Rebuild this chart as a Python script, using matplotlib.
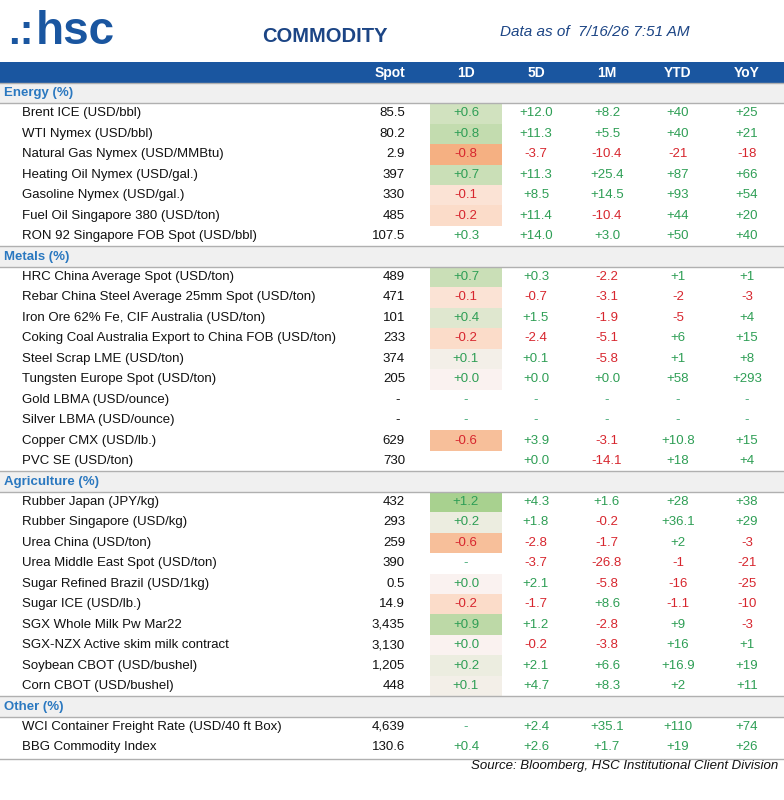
import matplotlib
matplotlib.use("Agg")
import matplotlib.pyplot as plt
from matplotlib.patches import Rectangle
import numpy as np

plt.rcParams['font.family'] = ['Liberation Sans', 'DejaVu Sans']

sections = ["Energy (%)", "Metals (%)", "Agriculture (%)", "Other (%)"]
names = [
    ["Brent ICE (USD/bbl)", "WTI Nymex (USD/bbl)", "Natural Gas Nymex (USD/MMBtu)",
     "Heating Oil Nymex (USD/gal.)", "Gasoline Nymex (USD/gal.)",
     "Fuel Oil Singapore 380 (USD/ton)", "RON 92 Singapore FOB Spot (USD/bbl)"],
    ["HRC China Average Spot (USD/ton)", "Rebar China Steel Average 25mm Spot (USD/ton)",
     "Iron Ore 62% Fe, CIF Australia (USD/ton)", "Coking Coal Australia Export to China FOB (USD/ton)",
     "Steel Scrap LME (USD/ton)", "Tungsten Europe Spot (USD/ton)", "Gold LBMA (USD/ounce)",
     "Silver LBMA (USD/ounce)", "Copper CMX (USD/lb.)", "PVC SE (USD/ton)"],
    ["Rubber Japan (JPY/kg)", "Rubber Singapore (USD/kg)", "Urea China (USD/ton)",
     "Urea Middle East Spot (USD/ton)", "Sugar Refined Brazil (USD/1kg)", "Sugar ICE (USD/lb.)",
     "SGX Whole Milk Pw Mar22", "SGX-NZX Active skim milk contract", "Soybean CBOT (USD/bushel)",
     "Corn CBOT (USD/bushel)"],
    ["WCI Container Freight Rate (USD/40 ft Box)", "BBG Commodity Index"],
]
spot = [["85.5", "80.2", "2.9", "397", "330", "485", "107.5"],
        ["489", "471", "101", "233", "374", "205", "-", "-", "629", "730"],
        ["432", "293", "259", "390", "0.5", "14.9", "3,435", "3,130", "1,205", "448"],
        ["4,639", "130.6"]]
d1 = [["+0.6", "+0.8", "-0.8", "+0.7", "-0.1", "-0.2", "+0.3"],
      ["+0.7", "-0.1", "+0.4", "-0.2", "+0.1", "+0.0", "-", "-", "-0.6", ""],
      ["+1.2", "+0.2", "-0.6", "-", "+0.0", "-0.2", "+0.9", "+0.0", "+0.2", "+0.1"],
      ["-", "+0.4"]]
d5 = [["+12.0", "+11.3", "-3.7", "+11.3", "+8.5", "+11.4", "+14.0"],
      ["+0.3", "-0.7", "+1.5", "-2.4", "+0.1", "+0.0", "-", "-", "+3.9", "+0.0"],
      ["+4.3", "+1.8", "-2.8", "-3.7", "+2.1", "-1.7", "+1.2", "-0.2", "+2.1", "+4.7"],
      ["+2.4", "+2.6"]]
m1 = [["+8.2", "+5.5", "-10.4", "+25.4", "+14.5", "-10.4", "+3.0"],
      ["-2.2", "-3.1", "-1.9", "-5.1", "-5.8", "+0.0", "-", "-", "-3.1", "-14.1"],
      ["+1.6", "-0.2", "-1.7", "-26.8", "-5.8", "+8.6", "-2.8", "-3.8", "+6.6", "+8.3"],
      ["+35.1", "+1.7"]]
ytd = [["+40", "+40", "-21", "+87", "+93", "+44", "+50"],
       ["+1", "-2", "-5", "+6", "+1", "+58", "-", "-", "+10.8", "+18"],
       ["+28", "+36.1", "+2", "-1", "-16", "-1.1", "+9", "+16", "+16.9", "+2"],
       ["+110", "+19"]]
yoy = [["+25", "+21", "-18", "+66", "+54", "+20", "+40"],
       ["+1", "-3", "+4", "+15", "+8", "+293", "-", "-", "+15", "+4"],
       ["+38", "+29", "-3", "-21", "-25", "-10", "-3", "+1", "+19", "+11"],
       ["+74", "+26"]]
shaded = [[1, 1, 1, 1, 1, 1, 0],
          [1, 1, 1, 1, 1, 1, 0, 0, 1, 0],
          [1, 1, 1, 0, 1, 1, 1, 1, 1, 1],
          [0, 0]]
headers = ["Spot", "1D", "5D", "1M", "YTD", "YoY"]

W, H = 784, 800
fig = plt.figure(figsize=(W / 100, H / 100), dpi=100)
ax = fig.add_axes([0, 0, 1, 1])
ax.set_xlim(0, W); ax.set_ylim(H, 0); ax.axis('off')

BLUE = '#1a56a0'
GREEN = '#2e9e55'
RED = '#d7262e'

# title area
ax.text(8, 33, ".:", fontsize=30, fontweight='bold', color=BLUE, va='center', ha='left')
ax.text(36, 32, "hsc", fontsize=33, fontweight='bold', color=BLUE, va='center', ha='left')
ax.text(325, 37, "COMMODITY", fontsize=14.5, fontweight='bold', color='#1c4585', va='center', ha='center')
ax.text(595, 32, "Data as of  7/16/26 7:51 AM", fontsize=11, style='italic', color='#1c4585', va='center', ha='center')

# header bar
ax.add_patch(Rectangle((0, 62), W, 22, color=BLUE, lw=0))
col_x = [405, 466, 536, 607, 678, 747]
for i, h in enumerate(headers):
    ax.text(col_x[i] - (0 if i == 0 else 0), 73, h, color='white', fontweight='bold', fontsize=10,
            ha='right' if i == 0 else 'center', va='center')

def cell_color(v):
    x = float(v)
    if x >= 0:
        t = min(x / 1.2, 1)
        c0 = np.array([0.98, 0.95, 0.94]); c1 = np.array([0.66, 0.82, 0.56])
    else:
        t = min(-x / 0.8, 1)
        c0 = np.array([0.99, 0.92, 0.88]); c1 = np.array([0.96, 0.69, 0.51])
    return tuple(c0 + (c1 - c0) * t)

def tcol(s):
    if s.startswith('+'):
        return GREEN
    if s.startswith('-') and len(s) > 1:
        return RED
    return '#222222'

pitch = 20.45
y = 93.0
fs = 9.5
for si, sec in enumerate(sections):
    ax.add_patch(Rectangle((0, y - pitch / 2), W, pitch, color='#f0f0f0', lw=0))
    ax.plot([0, W], [y - pitch / 2, y - pitch / 2], color='#b0b0b0', lw=1)
    ax.plot([0, W], [y + pitch / 2, y + pitch / 2], color='#b0b0b0', lw=1)
    ax.text(4, y, sec, color='#2a78c0', fontweight='bold', fontsize=fs, va='center')
    y += pitch
    for ri, nm in enumerate(names[si]):
        ax.text(22, y, nm, fontsize=fs, va='center', color='#111111')
        s = spot[si][ri]
        if s == '-':
            ax.text(398, y, s, fontsize=fs, va='center', ha='center', color='#111111')
        else:
            ax.text(405, y, s, fontsize=fs, va='center', ha='right', color='#111111')
        v = d1[si][ri]
        if shaded[si][ri] and v not in ('-', ''):
            ax.add_patch(Rectangle((430, y - pitch / 2), 72, pitch, color=cell_color(v), lw=0))
        for ci, arr in enumerate([d1, d5, m1, ytd, yoy]):
            s2 = arr[si][ri]
            if s2 == '-':
                c = '#44aa77'
            else:
                c = tcol(s2)
            ax.text(col_x[ci + 1], y, s2, fontsize=fs, va='center', ha='center', color=c)
        y += pitch

ax.plot([0, W], [y - pitch / 2 + 1, y - pitch / 2 + 1], color='#b0b0b0', lw=1)
ax.text(778, y - 2, "Source: Bloomberg, HSC Institutional Client Division", fontsize=9.5,
        style='italic', ha='right', va='center', color='#111111')

fig.savefig("out.png", dpi=100)
